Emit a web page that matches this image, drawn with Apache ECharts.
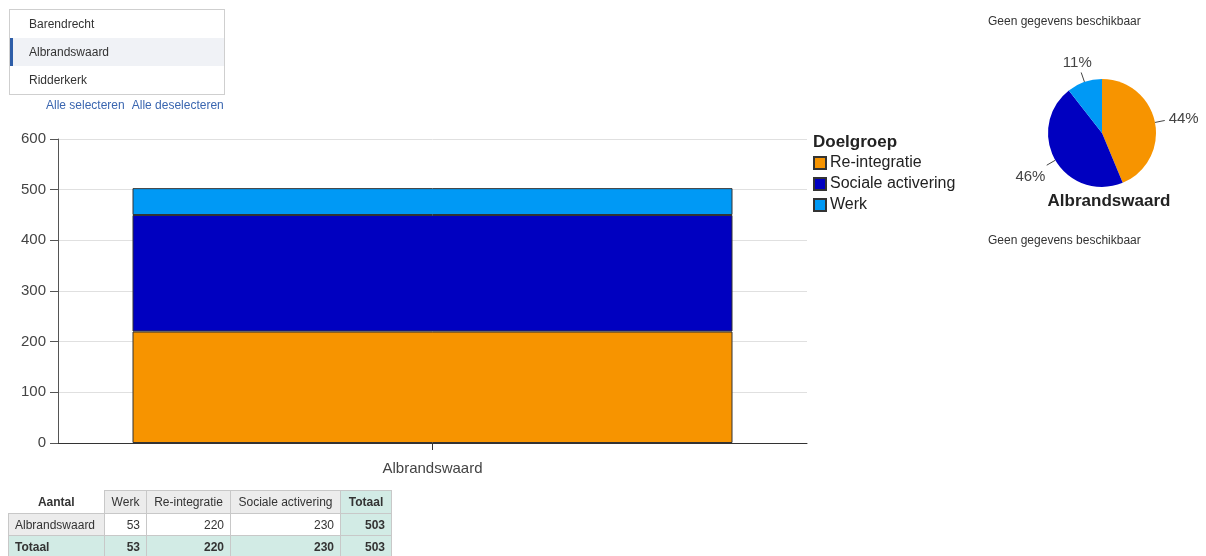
<!DOCTYPE html>
<html>
<head>
<meta charset="utf-8">
<script src="https://cdn.jsdelivr.net/npm/echarts@6/dist/echarts.min.js"></script>
<style>
  html, body { margin: 0; padding: 0; background: #fff; }
  body { width: 1206px; height: 556px; position: relative; overflow: hidden; font-family: "Liberation Sans", Arial, sans-serif; }
  #chart { position: absolute; left: 0; top: 0; width: 1206px; height: 556px; }
  #list { position: absolute; left: 9px; top: 9px; width: 214px; height: 84px; border: 1px solid #cfcfcf; background: #fff; }
  #list .item { position: absolute; left: 0; width: 214px; height: 28px; line-height: 28px; font-size: 12px; color: #333; padding-left: 19px; box-sizing: border-box; }
  #list .item.sel { background: #f0f2f6; border-left: 3px solid #2e5ea8; padding-left: 16px; }
  #links { position: absolute; left: 46px; top: 98px; font-size: 12px; color: #3a66b0; white-space: nowrap; }
  #links span { margin-right: 7px; }
  #tbl { position: absolute; left: 8px; top: 490px; border-collapse: collapse; font-size: 12px; color: #333; table-layout: fixed; }
  #tbl td { border: 1px solid #c8c8c8; height: 21px; padding: 0 6px; white-space: nowrap; box-sizing: border-box; }
  #tbl td.hdr { background: #ececec; text-align: center; }
  #tbl td.corner { border: none; background: #fff; font-weight: bold; text-align: center; }
  #tbl td.rowh { background: #ececec; text-align: left; }
  #tbl td.num { background: #fff; text-align: right; }
  #tbl td.tot { background: #d2ebe5; font-weight: bold; text-align: right; }
  #tbl td.toth { background: #d2ebe5; font-weight: bold; text-align: center; }
  #tbl td.totl { background: #d2ebe5; font-weight: bold; text-align: left; }
</style>
</head>
<body>
<div id="chart"></div>
<div id="list"></div>
<div id="links"></div>
<table id="tbl"></table>
<script>
// ---- data ----
const municipalities = ['Barendrecht', 'Albrandswaard', 'Ridderkerk'];
const selectedMunicipality = 'Albrandswaard';
const categories = ['Albrandswaard'];
const seriesNames = ['Re-integratie', 'Sociale activering', 'Werk'];
const reintegratie = [220];
const socialeActivering = [230];
const werk = [53];
const seriesColors = ['#f79400', '#0000c0', '#0099f5'];
const yTicks = [0, 100, 200, 300, 400, 500, 600];
const tableColumns = ['Werk', 'Re-integratie', 'Sociale activering', 'Totaal'];
const legendTitle = 'Doelgroep';
const noDataText = 'Geen gegevens beschikbaar';
const linkTexts = ['Alle selecteren', 'Alle deselecteren'];
const tableCorner = 'Aantal';
const totalLabel = 'Totaal';

// ---- HTML parts (list, links, table) ----
const list = document.getElementById('list');
municipalities.forEach((m, i) => {
  const d = document.createElement('div');
  d.className = 'item' + (m === selectedMunicipality ? ' sel' : '');
  d.style.top = (i * 28) + 'px';
  d.textContent = m;
  list.appendChild(d);
});
document.getElementById('links').innerHTML = linkTexts.map(t => '<span>' + t + '</span>').join('');

const seriesValues = [reintegratie, socialeActivering, werk];
const colWidths = [96, 42, 84, 110, 51];
const tbl = document.getElementById('tbl');
const w = werk[0], r = reintegratie[0], s = socialeActivering[0], t = w + r + s;
let html = '<colgroup>' + colWidths.map(cw => '<col style="width:' + cw + 'px">').join('') + '</colgroup>';
html += '<tr style="height:23px"><td class="corner">' + tableCorner + '</td>';
tableColumns.forEach((c, i) => {
  html += '<td class="' + (i === tableColumns.length - 1 ? 'toth' : 'hdr') + '">' + c + '</td>';
});
html += '</tr>';
html += '<tr style="height:22px"><td class="rowh">' + categories[0] + '</td><td class="num">' + w + '</td><td class="num">' + r + '</td><td class="num">' + s + '</td><td class="tot">' + t + '</td></tr>';
html += '<tr style="height:22px"><td class="totl">' + totalLabel + '</td><td class="tot">' + w + '</td><td class="tot">' + r + '</td><td class="tot">' + s + '</td><td class="tot">' + t + '</td></tr>';
tbl.innerHTML = html;

// ---- ECharts ----
const FONT = '"Liberation Sans", Arial, sans-serif';
const chart = echarts.init(document.getElementById('chart'));
const total = seriesValues.reduce((a, v) => a + v[0], 0);

const barSeries = seriesNames.map((name, i) => ({
  name: name,
  type: 'bar',
  stack: 'total',
  data: seriesValues[i],
  barWidth: 600,
  itemStyle: { color: seriesColors[i], borderColor: '#333', borderWidth: 1 },
  emphasis: { disabled: true },
  animation: false
}));

// place pie labels radially outward (Google-chart style)
function pieLabelLayout(params) {
  const pts = params.labelLinePoints;
  if (!pts || pts.length < 2) return {};
  const p0 = pts[0], p1 = pts[1];
  const dx = p1[0] - p0[0], dy = p1[1] - p0[1];
  const len = Math.hypot(dx, dy) || 1;
  const ux = dx / len, uy = dy / len;
  const L = 10, gap = 4;
  const ex = p0[0] + ux * L, ey = p0[1] + uy * L;
  const hw = params.labelRect.width / 2, hh = params.labelRect.height / 2;
  const tx = Math.abs(ux) > 1e-6 ? hw / Math.abs(ux) : Infinity;
  const ty = Math.abs(uy) > 1e-6 ? hh / Math.abs(uy) : Infinity;
  const tt = Math.min(tx, ty) + gap;
  return {
    x: ex + ux * tt,
    y: ey + uy * tt + 2,
    align: 'center',
    verticalAlign: 'middle',
    labelLinePoints: [[p0[0], p0[1]], [ex, ey], [ex, ey]]
  };
}

chart.setOption({
  animation: false,
  textStyle: { fontFamily: FONT },
  title: [
    { text: legendTitle, left: 808, top: 129, textStyle: { fontFamily: FONT, fontSize: 17, fontWeight: 'bold', color: '#222' } },
    { text: noDataText, left: 983, top: 11, textStyle: { fontFamily: FONT, fontSize: 12, fontWeight: 'normal', color: '#333' } },
    { text: noDataText, left: 983, top: 230, textStyle: { fontFamily: FONT, fontSize: 12, fontWeight: 'normal', color: '#333' } },
    { text: selectedMunicipality, left: 1104, top: 188, textAlign: 'center', textStyle: { fontFamily: FONT, fontSize: 17, fontWeight: 'bold', color: '#222' } }
  ],
  legend: {
    orient: 'vertical',
    left: 808,
    top: 150,
    itemWidth: 12,
    itemHeight: 12,
    itemGap: 5,
    icon: 'rect',
    selectedMode: false,
    data: seriesNames,
    textStyle: { fontFamily: FONT, fontSize: 16, color: '#222', padding: [0, 0, 0, -1] }
  },
  grid: { left: 58, right: 399, top: 139, bottom: 113, containLabel: false },
  xAxis: {
    type: 'category',
    data: categories,
    axisLine: { lineStyle: { color: '#333' } },
    axisTick: { show: true, alignWithLabel: true, length: 7, lineStyle: { color: '#333' } },
    axisLabel: { fontFamily: FONT, fontSize: 15, color: '#444', margin: 18 }
  },
  yAxis: {
    type: 'value',
    min: yTicks[0],
    max: yTicks[yTicks.length - 1],
    interval: yTicks[1] - yTicks[0],
    axisLine: { show: true, lineStyle: { color: '#555' } },
    axisTick: { show: true, length: 8, lineStyle: { color: '#555' } },
    axisLabel: { fontFamily: FONT, fontSize: 15, color: '#444', margin: 12 },
    splitLine: { lineStyle: { color: '#e0e0e0' } }
  },
  series: barSeries.concat([{
    name: 'pie',
    type: 'pie',
    center: [1102, 133],
    radius: 54,
    startAngle: 90,
    clockwise: true,
    avoidLabelOverlap: false,
    emphasis: { disabled: true },
    data: seriesNames.map((n, i) => ({ name: n, value: seriesValues[i][0], itemStyle: { color: seriesColors[i] } })),
    label: {
      show: true,
      fontFamily: FONT,
      fontSize: 15,
      color: '#444',
      formatter: p => Math.round(p.value / total * 100) + '%'
    },
    labelLine: { show: true, length: 10, length2: 0, lineStyle: { color: '#444' } },
    labelLayout: pieLabelLayout
  }])
});
</script>
</body>
</html>
